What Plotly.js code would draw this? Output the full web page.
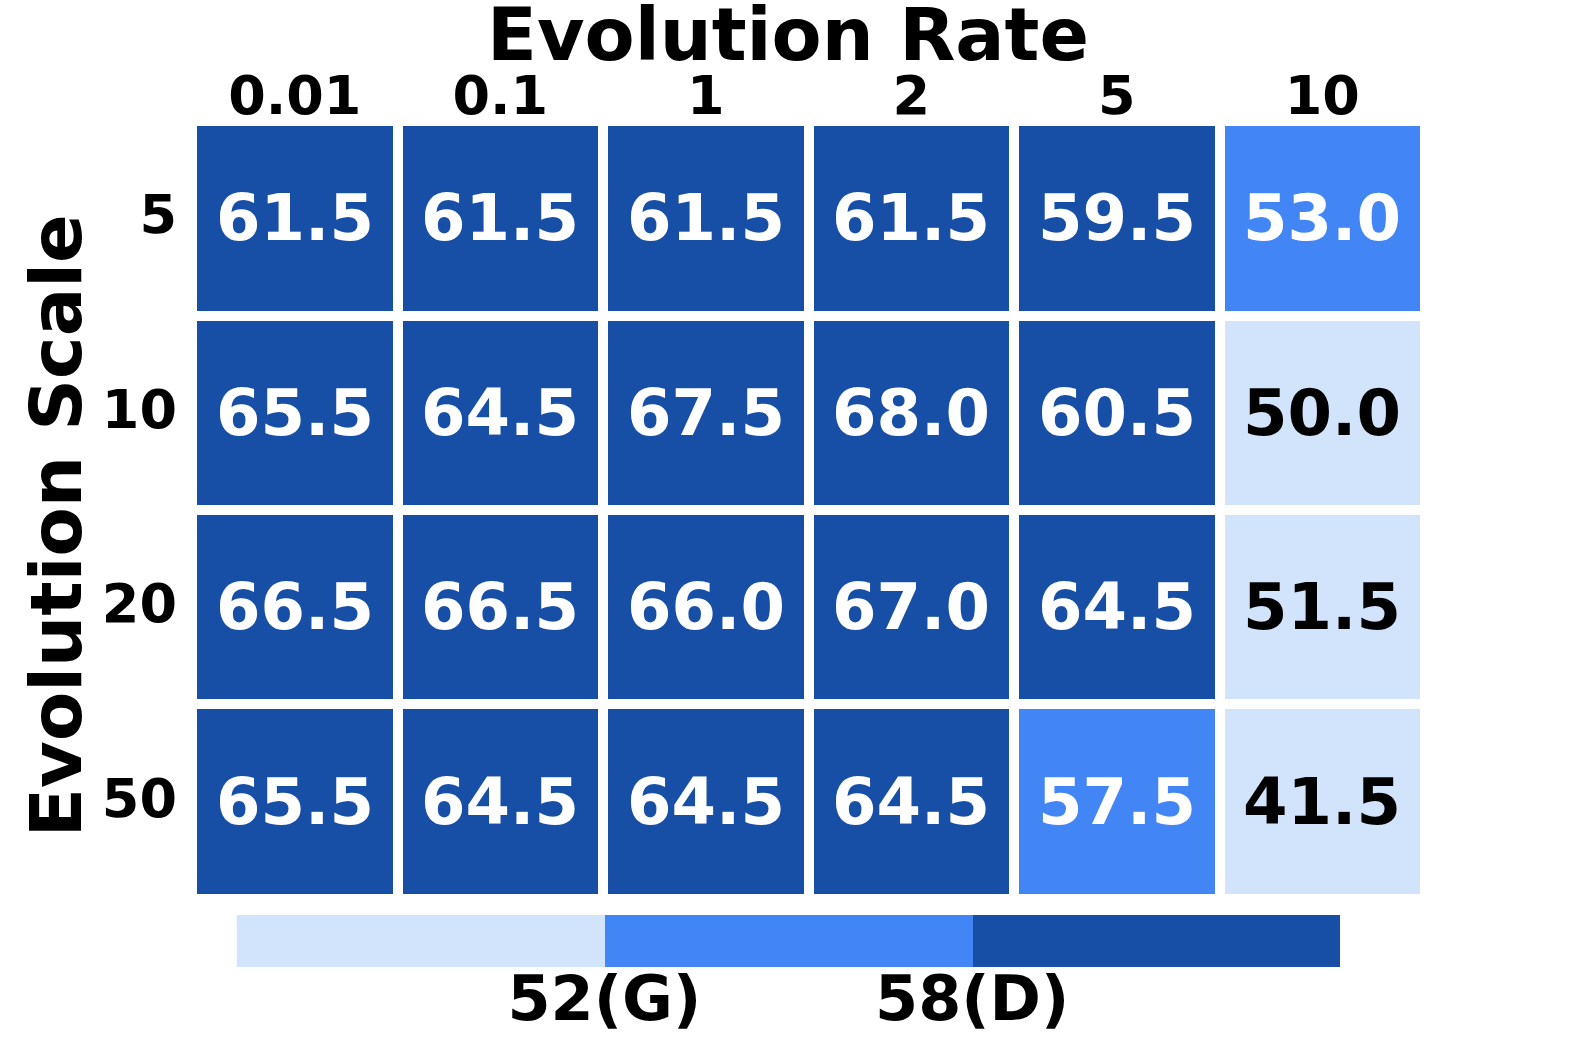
<!DOCTYPE html>
<html><head><meta charset="utf-8">
<script src="https://cdn.plot.ly/plotly-3.0.1.min.js"></script>
<style>html,body{margin:0;padding:0;background:#fff}</style>
</head><body>
<div id="chart" style="width:1578px;height:1052px"></div>
<script>
const rates = ["0.01", "0.1", "1", "2", "5", "10"];
const scales = ["5", "10", "20", "50"];
const scores = [
  [61.5, 61.5, 61.5, 61.5, 59.5, 53.0],
  [65.5, 64.5, 67.5, 68.0, 60.5, 50.0],
  [66.5, 66.5, 66.0, 67.0, 64.5, 51.5],
  [65.5, 64.5, 64.5, 64.5, 57.5, 41.5]
];
const thresholds = [52, 58];
const thresholdLabels = ["52(G)", "58(D)"];
const scaleRange = [46, 64];
const binColors = ["#D2E3FC", "#4285F4", "#174EA6"];
const binIndex = [0, 1, 2];

const F = "DejaVu Sans";
const cs = [[0, binColors[0]], [1/3, binColors[0]], [1/3, binColors[1]], [2/3, binColors[1]], [2/3, binColors[2]], [1, binColors[2]]];

const highScores = scores.map(r => r.map(v => v >= thresholds[0] ? v : null));
const lowScores = scores.map(r => r.map(v => v < thresholds[0] ? v : null));

function cellTrace(z, textColor) {
  return {
    type: "heatmap", x: rates, y: scales, z: z,
    zmin: scaleRange[0], zmax: scaleRange[1], colorscale: cs, showscale: false,
    xgap: 10, ygap: 10,
    texttemplate: "%{z:.1f}",
    textfont: {family: F, size: 64, weight: "bold", color: textColor},
    hoverinfo: "skip"
  };
}

const barTrace = {
  type: "heatmap", xaxis: "x2", yaxis: "y2",
  x: [scaleRange[0]].concat(thresholds, [scaleRange[1]]),
  z: [binIndex],
  zmin: -0.5, zmax: 2.5, colorscale: cs, showscale: false,
  hoverinfo: "skip"
};

const layout = {
  width: 1578, height: 1052,
  margin: {l: 192, r: 153, t: 121, b: 85},
  paper_bgcolor: "#fff", plot_bgcolor: "#fff",
  font: {family: F, color: "#000"},
  title: {text: "Evolution Rate", font: {family: F, size: 73, weight: "bold", color: "#000"},
          xref: "container", x: 0.4994, xanchor: "center", yref: "container", y: 0.967, yanchor: "middle"},
  xaxis: {
    type: "category", side: "top", domain: [0, 1],
    showgrid: false, zeroline: false, showline: false, ticks: "",
    tickfont: {family: F, size: 54, weight: "bold"},
    ticklabelstandoff: -5
  },
  yaxis: {
    type: "category", autorange: "reversed", domain: [0.0804, 1],
    showgrid: false, zeroline: false, showline: false, ticks: "",
    tickfont: {family: F, size: 54, weight: "bold"},
    ticklabelstandoff: 14,
    ticklabelshift: 4
  },
  xaxis2: {
    anchor: "y2", domain: [0.0361, 0.9311], range: scaleRange,
    tickvals: thresholds, ticktext: thresholdLabels,
    showgrid: false, zeroline: false, showline: false, ticks: "",
    tickfont: {family: F, size: 62, weight: "bold"},
    ticklabelstandoff: -10
  },
  yaxis2: {
    anchor: "x2", domain: [0, 0.0615], range: [-0.5, 0.5],
    showticklabels: false, showgrid: false, zeroline: false, showline: false, ticks: ""
  },
  annotations: [{
    text: "Evolution Scale", textangle: -90, showarrow: false,
    xref: "paper", yref: "paper", x: -0.1103, y: 0.521, xanchor: "center", yanchor: "middle",
    font: {family: F, size: 72, weight: "bold", color: "#000"}
  }]
};
Plotly.newPlot("chart", [cellTrace(highScores, "#FFFFFF"), cellTrace(lowScores, "#000000"), barTrace], layout, {displayModeBar: false, staticPlot: true});
</script>
</body></html>
